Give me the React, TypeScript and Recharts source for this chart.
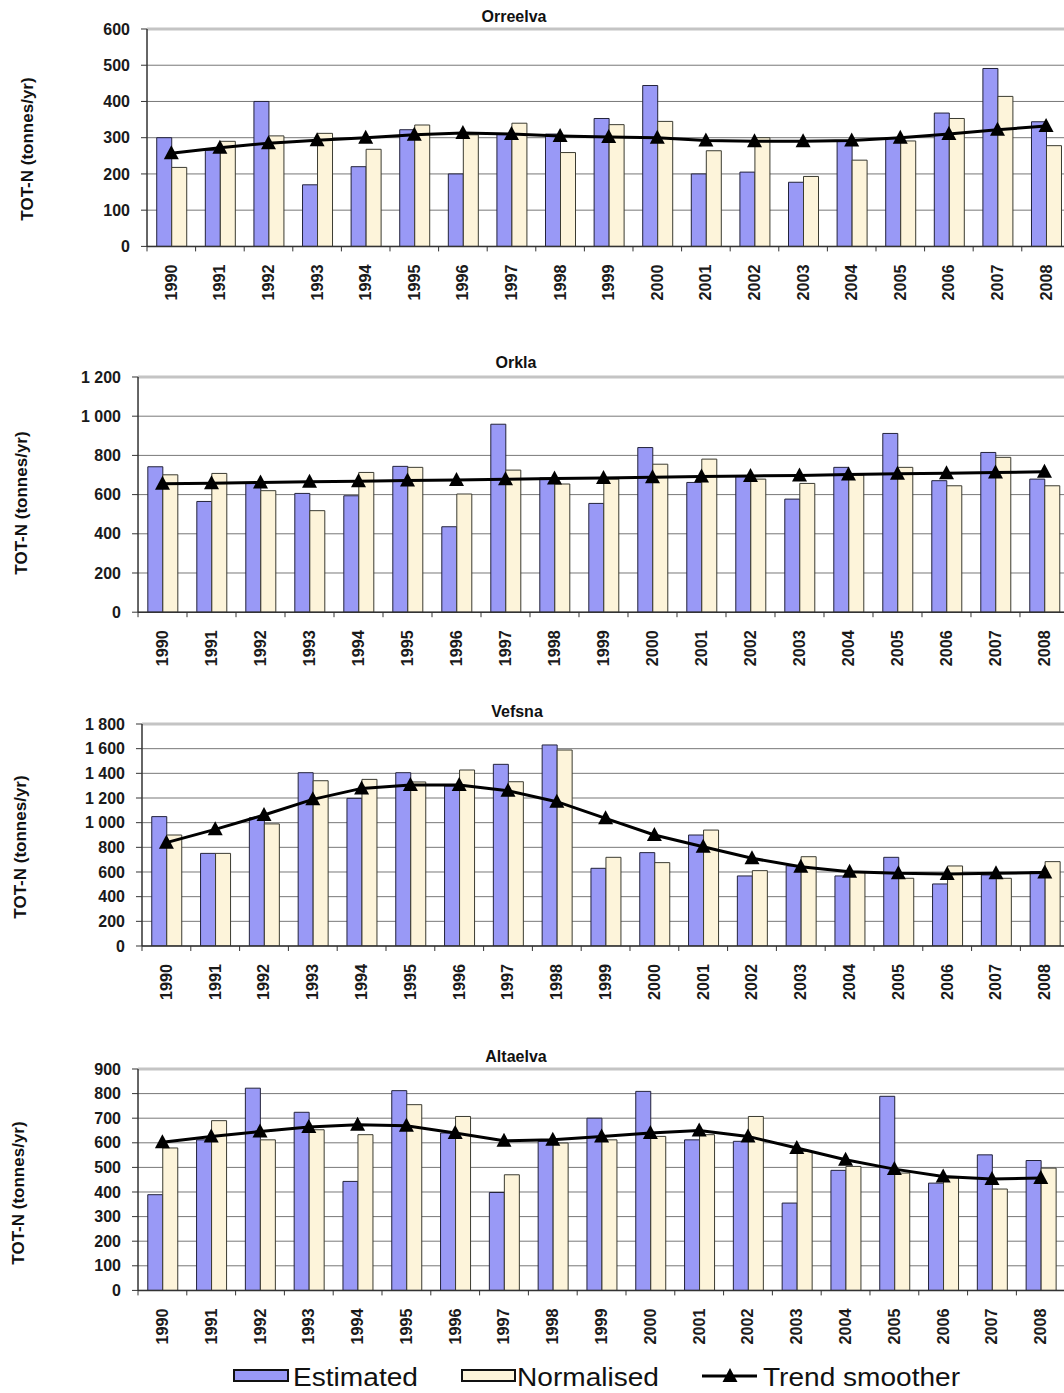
import React from 'react';
import { ComposedChart, Bar, Line, XAxis, YAxis, CartesianGrid, ReferenceLine } from 'recharts';

const FONT = '"Liberation Sans", Arial, Helvetica, sans-serif';

const years = ['1990', '1991', '1992', '1993', '1994', '1995', '1996', '1997', '1998', '1999', '2000', '2001', '2002', '2003', '2004', '2005', '2006', '2007', '2008'];

const orreelvaEst = [300, 265, 400, 170, 220, 322, 200, 310, 310, 353, 444, 200, 205, 177, 290, 300, 368, 491, 344];
const orreelvaNorm = [218, 290, 305, 312, 268, 335, 308, 340, 259, 336, 345, 264, 300, 193, 238, 291, 353, 414, 278];
const orreelvaTrend = [257, 272, 285, 293, 300, 308, 313, 310, 305, 302, 300, 292, 290, 290, 292, 300, 310, 322, 332];
const orreelvaTicks = [0, 100, 200, 300, 400, 500, 600];

const orklaEst = [742, 565, 662, 606, 594, 744, 436, 959, 685, 555, 840, 662, 696, 577, 739, 912, 671, 815, 679];
const orklaNorm = [701, 708, 620, 518, 713, 739, 603, 725, 654, 679, 755, 781, 679, 657, 700, 739, 645, 790, 645];
const orklaTrend = [655, 658, 662, 665, 668, 672, 675, 678, 682, 685, 688, 692, 695, 698, 702, 706, 709, 713, 716];
const orklaTicks = [0, 200, 400, 600, 800, 1000, 1200];

const vefsnaEst = [1049, 751, 1040, 1405, 1197, 1405, 1297, 1473, 1630, 630, 757, 900, 568, 650, 568, 719, 503, 576, 603];
const vefsnaNorm = [900, 751, 990, 1340, 1351, 1330, 1427, 1332, 1589, 719, 676, 940, 611, 724, 603, 549, 649, 549, 684];
const vefsnaTrend = [838, 946, 1062, 1189, 1278, 1305, 1305, 1259, 1170, 1035, 900, 805, 711, 643, 603, 589, 584, 589, 595];
const vefsnaTicks = [0, 200, 400, 600, 800, 1000, 1200, 1400, 1600, 1800];

const altaEst = [389, 612, 822, 724, 443, 812, 640, 398, 606, 700, 809, 612, 606, 355, 488, 789, 436, 551, 528];
const altaNorm = [579, 690, 612, 653, 633, 755, 707, 470, 599, 612, 626, 633, 707, 565, 504, 477, 457, 412, 497];
const altaTrend = [602, 626, 646, 664, 673, 669, 640, 608, 612, 626, 640, 650, 626, 579, 531, 493, 463, 453, 457];
const altaTicks = [0, 100, 200, 300, 400, 500, 600, 700, 800, 900];

const titles = ['Orreelva', 'Orkla', 'Vefsna', 'Altaelva'];
const yLabel = 'TOT-N (tonnes/yr)';
const legendLabels = ['Estimated', 'Normalised', 'Trend smoother'];

const EST_FILL = '#9999f6';
const NORM_FILL = '#fdf4da';
const GRID = '#777777';
const AXIS = '#333333';

const fmt = (v: number) => {
  if (v >= 1000) {
    const r = v % 1000;
    return `${Math.floor(v / 1000)} ${String(r).padStart(3, '0')}`;
  }
  return String(v);
};

const XTick = (props: any) => {
  const { x, y, payload, bw } = props;
  const ty = y + 18;
  const isLast = payload && payload.value === years[years.length - 1];
  return (
    <g>
      <line x1={x - bw / 2} x2={x - bw / 2} y1={y} y2={y + 5} stroke={AXIS} strokeWidth={1} />
      {isLast ? <line x1={x + bw / 2} x2={x + bw / 2} y1={y} y2={y + 5} stroke={AXIS} strokeWidth={1} /> : null}
      <text
        x={x}
        y={ty}
        transform={`rotate(-90 ${x} ${ty})`}
        textAnchor="end"
        dominantBaseline="central"
        fontFamily={FONT}
        fontSize={16}
        fontWeight="bold"
        fill="#1a1a1a"
        textLength={36}
        lengthAdjust="spacingAndGlyphs"
      >
        {payload.value}
      </text>
    </g>
  );
};

const triangle = (p: any) => {
  if (p.cx == null || p.cy == null) return <g key={`t${p.index}`} />;
  return (
    <path
      key={`t${p.index}`}
      d={`M${p.cx},${p.cy - 8}L${p.cx + 7.5},${p.cy + 6}L${p.cx - 7.5},${p.cy + 6}Z`}
      fill="#000"
    />
  );
};

type Cfg = {
  title: string;
  est: number[];
  norm: number[];
  trend: number[];
  ticks: number[];
  L: number;
  w: number;
  plotTop: number;
  plotBottom: number;
  titleX: number;
  titleY: number;
  labelX: number;
  labelY: number;
};

const panels: Cfg[] = [
  { title: titles[0], est: orreelvaEst, norm: orreelvaNorm, trend: orreelvaTrend, ticks: orreelvaTicks, L: 147, w: 48.6, plotTop: 29.3, plotBottom: 246.7, titleX: 514, titleY: 16.5, labelX: 28, labelY: 149 },
  { title: titles[1], est: orklaEst, norm: orklaNorm, trend: orklaTrend, ticks: orklaTicks, L: 138, w: 49, plotTop: 376.5, plotBottom: 611.7, titleX: 516, titleY: 363, labelX: 22, labelY: 503 },
  { title: titles[2], est: vefsnaEst, norm: vefsnaNorm, trend: vefsnaTrend, ticks: vefsnaTicks, L: 142, w: 48.8, plotTop: 724, plotBottom: 946, titleX: 517, titleY: 712, labelX: 21, labelY: 847 },
  { title: titles[3], est: altaEst, norm: altaNorm, trend: altaTrend, ticks: altaTicks, L: 138, w: 48.8, plotTop: 1069.3, plotBottom: 1290.7, titleX: 516, titleY: 1057, labelX: 19, labelY: 1193 },
];

function Panel({ cfg }: { cfg: Cfg }) {
  const data = years.map((y, i) => ({ year: y, est: cfg.est[i], norm: cfg.norm[i], trend: cfg.trend[i] }));
  const mt = 12;
  const xh = 70;
  const top = cfg.plotTop - mt;
  const height = cfg.plotBottom - cfg.plotTop + mt + xh;
  const width = cfg.L + years.length * cfg.w + 2;
  const max = cfg.ticks[cfg.ticks.length - 1];
  return (
    <>
      <div
        style={{
          position: 'absolute',
          left: cfg.titleX - 150,
          top: cfg.titleY - 10,
          width: 300,
          height: 20,
          lineHeight: '20px',
          textAlign: 'center',
          fontFamily: FONT,
          fontSize: 16,
          fontWeight: 'bold',
          color: '#111',
        }}
      >
        {cfg.title}
      </div>
      <div
        style={{
          position: 'absolute',
          left: cfg.labelX - 100,
          top: cfg.labelY - 10,
          width: 200,
          height: 20,
          lineHeight: '20px',
          textAlign: 'center',
          fontFamily: FONT,
          fontSize: 17,
          fontWeight: 'bold',
          color: '#111',
          transform: 'rotate(-90deg)',
          whiteSpace: 'nowrap',
        }}
      >
        {yLabel}
      </div>
      <div style={{ position: 'absolute', left: 0, top, width, height }}>
        <ComposedChart
          width={width}
          height={height}
          data={data}
          margin={{ top: mt, right: 2, bottom: 0, left: 0 }}
          barCategoryGap="20%"
          barGap={0}
        >
          <CartesianGrid vertical={false} stroke={GRID} strokeWidth={1} />
          <ReferenceLine y={max} stroke="#c4c4c4" strokeWidth={3} />
          <XAxis
            dataKey="year"
            height={xh}
            interval={0}
            tickLine={false}
            tickSize={0}
            tickMargin={0}
            axisLine={{ stroke: AXIS, strokeWidth: 1.5 }}
            tick={<XTick bw={cfg.w} />}
          />
          <YAxis
            width={cfg.L}
            domain={[0, max]}
            ticks={cfg.ticks}
            interval={0}
            tickFormatter={fmt}
            tickSize={6}
            tickMargin={11}
            tickLine={{ stroke: AXIS }}
            axisLine={{ stroke: AXIS, strokeWidth: 1.5 }}
            tick={{ fontFamily: FONT, fontSize: 16, fontWeight: 'bold', fill: '#1a1a1a' }}
            allowDataOverflow
          />
          <Bar dataKey="est" fill={EST_FILL} stroke="#22223a" strokeWidth={1} isAnimationActive={false} />
          <Bar dataKey="norm" fill={NORM_FILL} stroke="#3a3a30" strokeWidth={1} isAnimationActive={false} />
          <Line
            dataKey="trend"
            type="linear"
            stroke="#000"
            strokeWidth={3}
            dot={triangle}
            activeDot={false}
            isAnimationActive={false}
          />
        </ComposedChart>
      </div>
    </>
  );
}

function LegendBox() {
  const textProps = {
    fontFamily: FONT,
    fontSize: 25,
    fill: '#111',
    lengthAdjust: 'spacingAndGlyphs' as const,
  };
  return (
    <svg style={{ position: 'absolute', left: 0, top: 1355 }} width={1064} height={38}>
      <rect x={234} y={15} width={54} height={11} fill={EST_FILL} stroke="#111" strokeWidth={2} />
      <text x={293} y={31} textLength={125} {...textProps}>{legendLabels[0]}</text>
      <rect x={462} y={15} width={53} height={11} fill={NORM_FILL} stroke="#111" strokeWidth={2} />
      <text x={517} y={31} textLength={142} {...textProps}>{legendLabels[1]}</text>
      <line x1={702} x2={757} y1={21} y2={21} stroke="#000" strokeWidth={3} />
      <path d="M730,13L737.5,27L722.5,27Z" fill="#000" />
      <text x={763} y={31} textLength={197} {...textProps}>{legendLabels[2]}</text>
    </svg>
  );
}

export default function App() {
  return (
    <div
      style={{
        position: 'absolute',
        left: 0,
        top: 0,
        width: 1064,
        height: 1393,
        overflow: 'hidden',
        background: '#fff',
      }}
    >
      {panels.map((p) => (
        <Panel key={p.title} cfg={p} />
      ))}
      <LegendBox />
    </div>
  );
}
